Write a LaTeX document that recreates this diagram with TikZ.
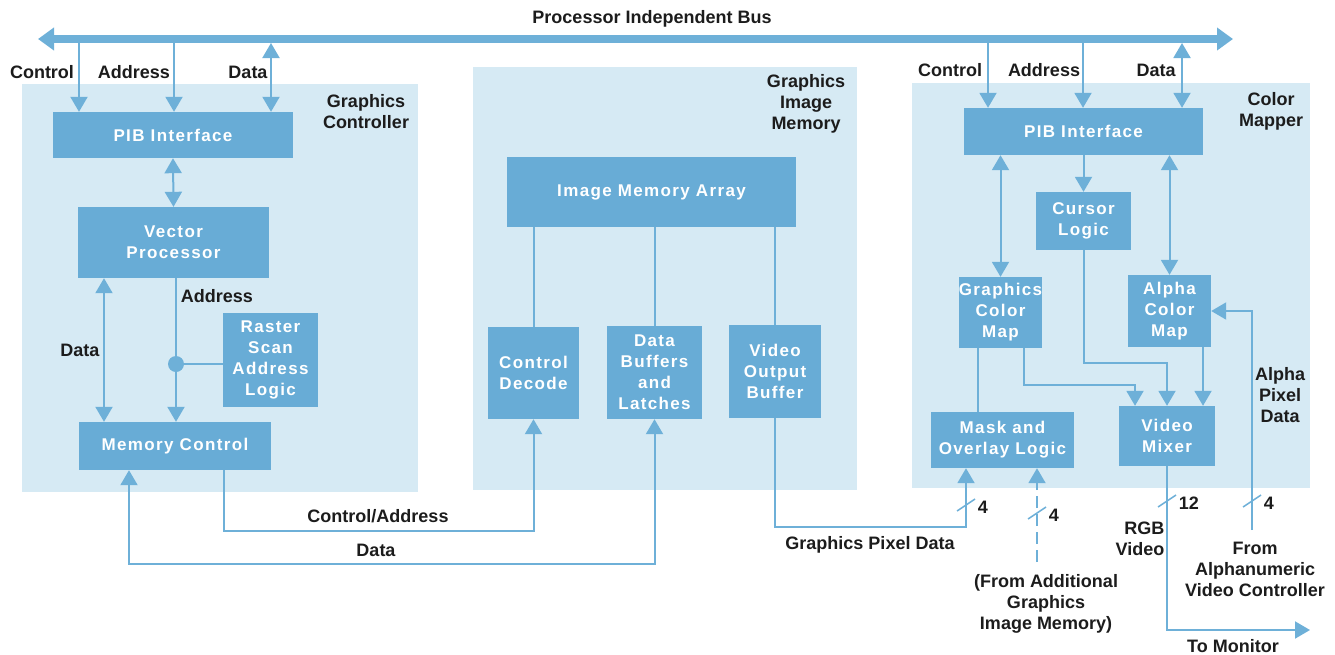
\documentclass[tikz,border=0pt]{standalone}
\usepackage{fontspec}
\setmainfont{Liberation Sans}
\newfontfamily\boxfont[LetterSpace=8]{Liberation Sans}
\usetikzlibrary{arrows.meta}
\definecolor{panelblue}{RGB}{214,234,244}
\definecolor{boxblue}{RGB}{104,172,214}
\definecolor{lineblue}{RGB}{110,176,216}
\definecolor{labelgray}{RGB}{28,28,28}
\begin{document}
\begin{tikzpicture}[x=1pt, y=-1pt,
  panel/.style={fill=panelblue, inner sep=0},
  block/.style={fill=boxblue, text=white, inner sep=0, align=center,
    font=\boxfont\fontsize{17}{21}\selectfont\bfseries},
  lbl/.style={text=labelgray, inner sep=0, align=center,
    font=\fontsize{18}{21}\selectfont\bfseries},
  conn/.style={draw=lineblue, line width=2pt},
  arr/.style={conn, -{Triangle[length=15pt,width=17pt]}},
  darr/.style={conn, {Triangle[length=15pt,width=17pt]}-{Triangle[length=15pt,width=17pt]}},
  bus/.style={draw=lineblue, line width=8pt, {Triangle[length=16pt,width=22pt]}-{Triangle[length=16pt,width=22pt]}},
  tick/.style={draw=lineblue, line width=1.5pt}]
\useasboundingbox (0,0) rectangle (1335,654);
\node[panel, minimum width=396pt, minimum height=408pt] (gcpanel) at (220,288) {};
\node[panel, minimum width=384pt, minimum height=423pt] (gimpanel) at (665,278.5) {};
\node[panel, minimum width=398pt, minimum height=405pt] (cmpanel) at (1111,285.5) {};
\coordinate (busL) at (38,39);
\coordinate (busR) at (1233,39);
\draw[bus] (busL) -- (busR);
\node[lbl] (busname) at (652,19) {Processor Independent Bus};
% graphics controller
\node[block, minimum width=240pt, minimum height=46pt] (gpib) at (173,135) {PIB Interface};
\node[block, minimum width=191pt, minimum height=71pt] (vproc) at (173.5,242.5) {Vector\\Processor};
\node[block, minimum width=95pt, minimum height=94pt] (raster) at (270.5,360) {Raster\\Scan\\Address\\Logic};
\node[block, minimum width=192pt, minimum height=48pt] (memctl) at (175,446) {Memory Control};
\node[lbl] (gcname) at (366,112) {Graphics\\Controller};
\node[lbl] (gcctl) at (42,72) {Control};
\node[lbl] (gcadr) at (134,72) {Address};
\node[lbl] (gcdat) at (248,72) {Data};
\coordinate (gcC) at (79,42);
\coordinate (gcA) at (174,42);
\coordinate (gcD) at (271,43);
\draw[arr] (gcC) -- (gcC |- gpib.north);
\draw[arr] (gcA) -- (gcA |- gpib.north);
\draw[darr] (gcD) -- (gcD |- gpib.north);
\draw[darr] (gpib.south) -- (vproc.north);
\coordinate (gdat) at (104,0);
\coordinate (jn) at (176,364);
\draw[darr] (vproc.south -| gdat) -- (memctl.north -| gdat);
\draw[conn] (vproc.south -| jn) -- (jn) -- (jn -| raster.west);
\draw[arr] (jn) -- (jn |- memctl.north);
\fill[lineblue] (jn) circle (8pt);
\node[lbl] (vpadr) at (217,296) {Address};
\node[lbl] (vpdat) at (80,350) {Data};
% graphics image memory
\node[block, minimum width=289pt, minimum height=70pt] (ima) at (651.5,192) {Image Memory Array};
\node[block, minimum width=91pt, minimum height=92pt] (cdec) at (533.5,373) {Control\\Decode};
\node[block, minimum width=95pt, minimum height=93pt] (dbuf) at (654.5,372.5) {Data\\Buffers\\and\\Latches};
\node[block, minimum width=92pt, minimum height=93pt] (vob) at (775,371.5) {Video\\Output\\Buffer};
\node[lbl] (gimname) at (806,104) {Graphics\\Image\\Memory};
\draw[conn] (ima.south -| cdec.north) -- (cdec.north);
\draw[conn] (ima.south -| dbuf.north) -- (dbuf.north);
\draw[conn] (ima.south -| vob.north) -- (vob.north);
\coordinate (ca) at (224,531);
\coordinate (dd) at (129,564);
\draw[arr] (memctl.south -| ca) |- (cdec.south |- ca) -- (cdec.south);
\draw[darr] (memctl.south -| dd) |- (dbuf.south |- dd) -- (dbuf.south);
\node[lbl] (caname) at (378,516) {Control/Address};
\node[lbl] (ddname) at (376,550) {Data};
% color mapper
\node[block, minimum width=239pt, minimum height=47pt] (cpib) at (1083.5,131.5) {PIB Interface};
\node[block, minimum width=95pt, minimum height=58pt] (cursor) at (1083.5,221) {Cursor\\Logic};
\node[block, minimum width=83pt, minimum height=71pt] (gcmap) at (1000.5,312.5) {Graphics\\Color\\Map};
\node[block, minimum width=83pt, minimum height=72pt] (acmap) at (1169.5,311) {Alpha\\Color\\Map};
\node[block, minimum width=143pt, minimum height=56pt] (mask) at (1002.5,440) {Mask and\\Overlay Logic};
\node[block, minimum width=96pt, minimum height=60pt] (vmix) at (1167,436) {Video\\Mixer};
\node[lbl] (cmname) at (1271,111) {Color\\Mapper};
\node[lbl] (cmctl) at (950,70) {Control};
\node[lbl] (cmadr) at (1044,70) {Address};
\node[lbl] (cmdat) at (1156,70) {Data};
\coordinate (cmC) at (988,42);
\coordinate (cmA) at (1083,42);
\coordinate (cmD) at (1182,43);
\draw[arr] (cmC) -- (cmC |- cpib.north);
\draw[arr] (cmA) -- (cmA |- cpib.north);
\draw[darr] (cmD) -- (cmD |- cpib.north);
\draw[darr] (cpib.south -| gcmap.north) -- (gcmap.north);
\draw[darr] (cpib.south -| acmap.north) -- (acmap.north);
\draw[arr] (cpib.south -| cursor.north) -- (cursor.north);
\coordinate (gm) at (978,0);
\coordinate (gv) at (1024,385);
\coordinate (gvm) at (1135,0);
\coordinate (cv) at (1167,363);
\coordinate (av) at (1203,0);
\draw[conn] (gcmap.south -| gm) -- (mask.north -| gm);
\draw[arr] (gcmap.south -| gv) -- (gv) -| (vmix.north -| gvm);
\draw[arr] (cursor.south) |- (cv) -- (cv |- vmix.north);
\draw[arr] (acmap.south -| av) -- (vmix.north -| av);
% inputs and outputs
\coordinate (gp) at (966,527);
\coordinate (dsh) at (1037,562);
\coordinate (apd) at (1252,530);
\coordinate (mon) at (1310,630);
\draw[arr] (vob.south) |- (gp) -- (gp |- mask.south);
\draw[arr, dash pattern=on 12pt off 6pt] (dsh) -- (dsh |- mask.south);
\draw[arr] (apd) |- (acmap.east);
\draw[arr] (vmix.south) |- (mon);
\foreach \p/\y/\n/\k in {gp/505/4/t1, dsh/513/4/t2, vmix.south/501/12/t3, apd/501/4/t4}
  \draw[tick] ([shift={(-9,6)}]\p |- 0,\y) -- ([shift={(9,-6)}]\p |- 0,\y)
    node[lbl, anchor=west, xshift=2pt, yshift=-8pt] (\k) {\n};
\node[lbl] (gpname) at (870,545) {Graphics Pixel Data};
\node[lbl] (addname) at (1046,604) {(From Additional\\Graphics\\Image Memory)};
\node[lbl, align=right] (rgbname) at (1140,539) {RGB\\Video};
\node[lbl] (monname) at (1233,646) {To Monitor};
\node[lbl] (apdname) at (1280,395) {Alpha\\Pixel\\Data};
\node[lbl] (anname) at (1255,569) {From\\Alphanumeric\\Video Controller};
\end{tikzpicture}
\end{document}
